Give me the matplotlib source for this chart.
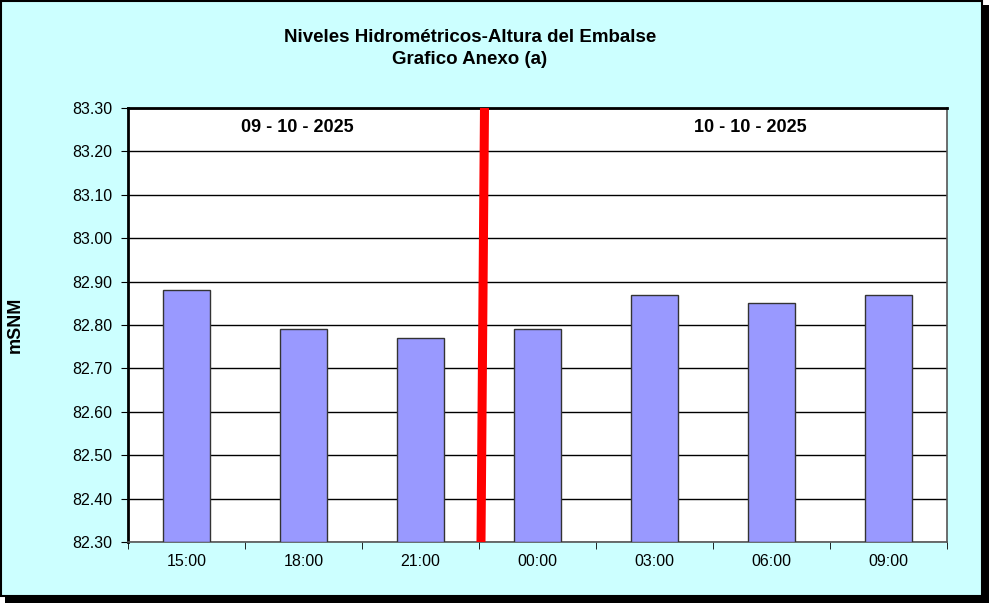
import matplotlib.pyplot as plt
from matplotlib.patches import Rectangle
import numpy as np

plt.rcParams['font.family'] = ['Liberation Sans', 'DejaVu Sans']

# data
horas = ["15:00", "18:00", "21:00", "00:00", "03:00", "06:00", "09:00"]
niveles = [82.88, 82.79, 82.77, 82.79, 82.87, 82.85, 82.87]
y_ticks = [82.30, 82.40, 82.50, 82.60, 82.70, 82.80, 82.90, 83.00, 83.10, 83.20, 83.30]
fecha_1 = "09 - 10 - 2025"
fecha_2 = "10 - 10 - 2025"

W, H = 989, 603
fig = plt.figure(figsize=(W / 100, H / 100), dpi=100, facecolor="white")

# outer frame with shadow
fig.patches.append(Rectangle((5 / W, 0), 984 / W, 598 / H, transform=fig.transFigure,
                             facecolor="black", edgecolor="none", zorder=-3))
fig.patches.append(Rectangle((1 / W, 7 / H), 981 / W, 595 / H, transform=fig.transFigure,
                             facecolor="#CCFFFF", edgecolor="black", linewidth=1.5, zorder=-2))

ax = fig.add_axes([128 / W, (H - 542) / H, 819 / W, 434 / H])
ax.set_facecolor("white")

x = np.arange(len(horas))
ax.bar(x, [v - y_ticks[0] for v in niveles], bottom=y_ticks[0], width=0.4,
       color="#9999FF", edgecolor="#333333", linewidth=1, zorder=3)

ax.set_xlim(-0.5, len(horas) - 0.5)
ax.set_ylim(y_ticks[0], y_ticks[-1])
ax.set_yticks(y_ticks)
ax.set_yticklabels([f"{v:.2f}" for v in y_ticks], fontsize=11.5)
ax.yaxis.grid(True, color="black", linewidth=1)
ax.set_axisbelow(True)

ax.set_xticks(x)
ax.set_xticklabels(horas, fontsize=11.5)
ax.set_xticks(np.arange(-0.5, len(horas)), minor=True)
ax.tick_params(axis="x", which="major", length=0, pad=9)
ax.tick_params(axis="x", which="minor", length=5, direction="out")
ax.tick_params(axis="y", length=5, direction="out", pad=6)

for s in ["left", "top"]:
    ax.spines[s].set_linewidth(2)
    ax.spines[s].set_color("black")
for s in ["right", "bottom"]:
    ax.spines[s].set_linewidth(1.2)
    ax.spines[s].set_color("#555555")

# red separator between days
ax.plot([2.517, 2.547], [y_ticks[0], y_ticks[-1]], color="red", linewidth=6.5,
        solid_capstyle="butt", zorder=4, clip_on=False)

ax.text(0.95, 83.255, fecha_1, ha="center", va="center", fontsize=13, fontweight="bold")
ax.text(4.82, 83.255, fecha_2, ha="center", va="center", fontsize=13, fontweight="bold")

ax.set_ylabel("mSNM", fontsize=13, fontweight="bold", labelpad=35)

fig.text(470 / W, 1 - 38 / H, "Niveles Hidrométricos-Altura del Embalse",
         ha="center", va="center", fontsize=13.5, fontweight="bold")
fig.text(470 / W, 1 - 60 / H, "Grafico Anexo (a)",
         ha="center", va="center", fontsize=13.5, fontweight="bold")

fig.savefig("out.png", dpi=100, facecolor=fig.get_facecolor())
